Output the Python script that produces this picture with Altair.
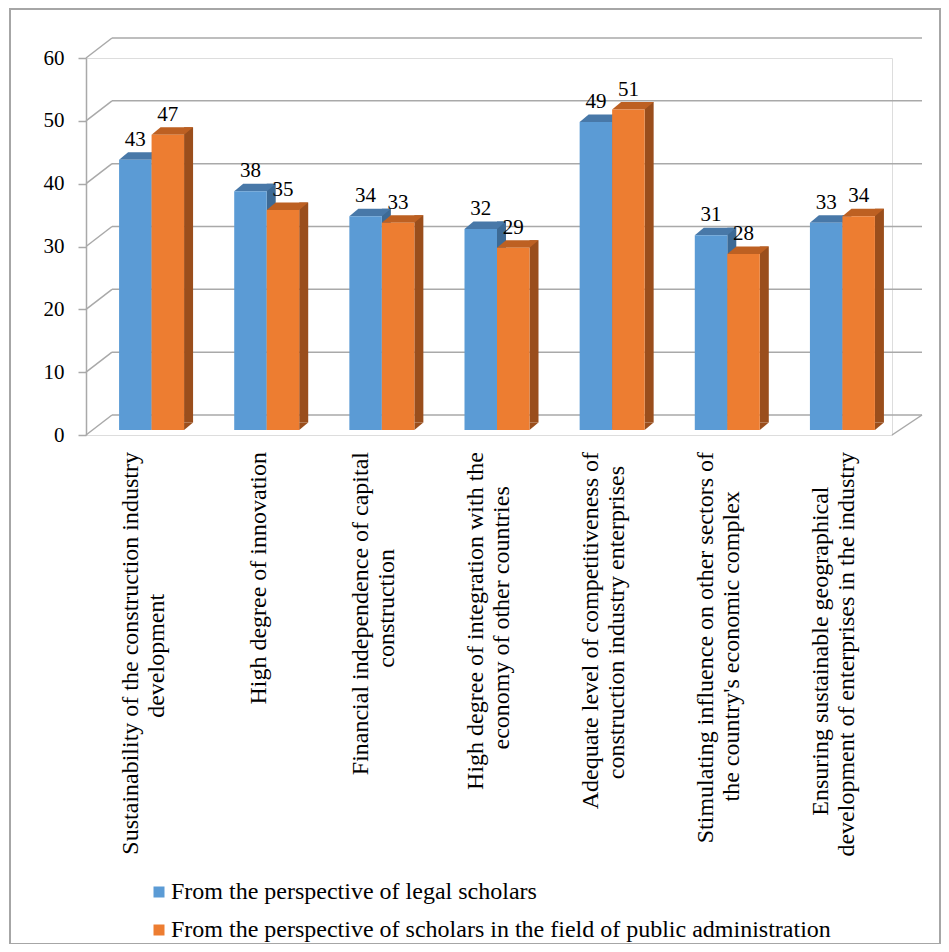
import altair as alt
import pandas as pd

# ---------------- data ----------------
label_line1 = [
    "Sustainability of the construction industry",
    "High degree of innovation",
    "Financial independence of capital",
    "High degree of integration with the",
    "Adequate level of competitiveness of",
    "Stimulating influence on other sectors of",
    "Ensuring sustainable geographical",
]
label_line2 = [
    "development",
    "",
    "construction",
    "economy of other countries",
    "construction industry enterprises",
    "the country's economic complex",
    "development of enterprises in the industry",
]
series = [
    "From the perspective of legal scholars",
    "From the perspective of scholars in the field of public administration",
]
legal_scholars = [43, 38, 34, 32, 49, 31, 33]
admin_scholars = [47, 35, 33, 29, 51, 28, 34]
y_ticks = [0, 10, 20, 30, 40, 50, 60]

front_colors = ["#5b9bd5", "#ed7d31"]
top_colors = ["#4878a8", "#bd6022"]
side_colors = ["#3d6a95", "#9a4e1c"]

FONT = "'Liberation Serif', 'Times New Roman', serif"
GRID = "#a9a9a9"

cats = [(a + " " + b).strip() for a, b in zip(label_line1, label_line2)]

rows = []
for c, v1, v2 in zip(cats, legal_scholars, admin_scholars):
    rows.append({"cat": c, "series": series[0], "value": v1, "zero": 0})
    rows.append({"cat": c, "series": series[1], "value": v2, "zero": 0})
bars_df = pd.DataFrame(rows)

lab_rows = []
for c, a, b in zip(cats, label_line1, label_line2):
    lines = [a] + ([b] if b else [])
    longest = max(len(t) for t in lines)
    slots = ["M"] if len(lines) == 1 else ["L", "R"]
    li = max(range(len(lines)), key=lambda i: len(lines[i]))
    for i, t in enumerate(lines):
        lab_rows.append({"cat": c, "text": t, "slot": slots[i],
                         "is_longest": i == li, "longest_len": longest})
labels_df = pd.DataFrame(lab_rows)

grid_df = pd.DataFrame({"v": y_ticks})
floor_df = pd.DataFrame({"v": [0]})
frame_df = pd.DataFrame({"a": [0]})

# ---------------- geometry (layout) ----------------
W, H = 806, 377
DEPTH_X, DEPTH_Y = 26, -20       # back wall offset
BAR_SHIFT, BAR_LIFT = 8, -5      # bars sit a little inside the box
DX, DY = 9, -7.5                 # 3-D depth of each bar
HALF = 16.25                     # half of a bar's width
LINE_GAP = 13                    # half distance between two label lines

Y = alt.Scale(domain=[0, 60], nice=False, zero=True)
X = alt.Scale(domain=cats, paddingInner=0.4355, paddingOuter=0.4355 / 2)

x_enc = alt.X("cat:N", sort=cats, scale=X, axis=None)

frame = alt.Chart(frame_df).mark_rect(
    fillOpacity=0, stroke="#a6a6a6", strokeWidth=2
).encode(x=alt.value(-76), x2=alt.value(854), y=alt.value(-49), y2=alt.value(886))

back_grid = alt.Chart(grid_df).mark_rule(
    color=GRID, strokeWidth=1.5, yOffset=DEPTH_Y
).encode(
    y=alt.Y("v:Q", scale=Y, axis=None),
    x=alt.value(DEPTH_X), x2=alt.value(W + 30),
)

left_wall = alt.Chart(grid_df).mark_rule(
    color=GRID, strokeWidth=1.5, y2Offset=DEPTH_Y
).encode(
    x=alt.value(0), x2=alt.value(DEPTH_X),
    y=alt.Y("v:Q", scale=Y, axis=alt.Axis(
        values=y_ticks, grid=False, title=None, domainColor=GRID, domainWidth=1.5,
        tickColor=GRID, tickWidth=1.5, tickSize=8, labelPadding=14,
        labelFont=FONT, labelFontSize=21, labelColor="#000000")),
    y2="v:Q",
)

floor_right = alt.Chart(floor_df).mark_rule(
    color=GRID, strokeWidth=1.5, y2Offset=DEPTH_Y
).encode(
    x=alt.value(W), x2=alt.value(W + 30),
    y=alt.Y("v:Q", scale=Y, axis=None), y2="v:Q",
)

x_axis = alt.Chart(floor_df).mark_rule(opacity=0).encode(
    x=alt.X("cat:N", sort=cats, scale=X, axis=alt.Axis(
        labels=False, title=None, tickBand="extent", tickSize=7, tickColor=GRID,
        tickWidth=1.5, domainColor=GRID, domainWidth=1.5, grid=False)),
)


def series_layers(j):
    s = series[j]
    off = BAR_SHIFT + (j - 0.5) * 2 * HALF
    base = alt.Chart(bars_df).transform_filter(alt.datum.series == s)
    side = base.mark_bar(
        width=DX, xOffset=off + HALF + DX / 2, color=side_colors[j],
        yOffset=BAR_LIFT + DY, y2Offset=BAR_LIFT + DY,
    ).encode(x=x_enc, y=alt.Y("value:Q", scale=Y, axis=None, stack=None), y2="zero:Q")
    bottom = base.mark_point(
        shape=f"M{HALF},0 L{HALF + DX},{DY} L{HALF},{DY} Z", size=4, filled=True,
        opacity=1, strokeWidth=0, color=side_colors[j], xOffset=off, yOffset=BAR_LIFT,
    ).encode(x=x_enc, y=alt.Y("zero:Q", scale=Y, axis=None))
    top = base.mark_point(
        shape=f"M{-HALF},0 L{HALF},0 L{HALF + DX},{DY} L{-HALF + DX},{DY} Z", size=4,
        filled=True, opacity=1, strokeWidth=0, color=top_colors[j],
        xOffset=off, yOffset=BAR_LIFT,
    ).encode(x=x_enc, y=alt.Y("value:Q", scale=Y, axis=None))
    front = base.mark_bar(
        width=2 * HALF, xOffset=off, yOffset=BAR_LIFT, y2Offset=BAR_LIFT,
    ).encode(
        x=x_enc,
        y=alt.Y("value:Q", scale=Y, axis=None, stack=None), y2="zero:Q",
        color=alt.Color("series:N", scale=alt.Scale(domain=series, range=front_colors),
                        legend=alt.Legend(
                            orient="none", legendX=61, legendY=822, title=None,
                            symbolType="square", symbolSize=121, symbolStrokeWidth=0,
                            symbolOpacity=1, labelFont=FONT, labelFontSize=24,
                            labelColor="#000000", rowPadding=14, labelLimit=0,
                            labelOffset=0, direction="vertical")),
    )
    label = base.mark_text(
        font=FONT, fontSize=21, color="#000000", baseline="alphabetic",
        xOffset=off, yOffset=BAR_LIFT, dy=-14,
    ).encode(x=x_enc, y=alt.Y("value:Q", scale=Y, axis=None), text="value:Q")
    return side, bottom, top, front, label


b_side, b_bottom, b_top, b_front, b_label = series_layers(0)
o_side, o_bottom, o_top, o_front, o_label = series_layers(1)

CAT_FS = 24
LABEL_TOP = 394
slot_off = {"L": -LINE_GAP, "M": 0, "R": LINE_GAP}


def cat_layers(slot):
    base = alt.Chart(labels_df).transform_filter(alt.datum.slot == slot)
    longest = base.transform_filter("datum.is_longest").mark_text(
        font=FONT, fontSize=CAT_FS, color="#000000", angle=270, align="right",
        baseline="middle", xOffset=slot_off[slot],
    ).encode(x=x_enc, y=alt.value(LABEL_TOP), text="text:N")
    other = base.transform_filter("!datum.is_longest").transform_calculate(
        ly=f"{LABEL_TOP} + datum.longest_len * {0.395 * CAT_FS} / 2"
    ).mark_text(
        font=FONT, fontSize=CAT_FS, color="#000000", angle=270, align="center",
        baseline="middle", xOffset=slot_off[slot],
    ).encode(x=x_enc, y=alt.Y("ly:Q", scale=None, axis=None), text="text:N")
    return longest, other


cat_l = cat_layers("L")
cat_m = cat_layers("M")
cat_r = cat_layers("R")

chart = alt.layer(
    frame, back_grid, left_wall, floor_right, x_axis,
    b_side, o_side, b_bottom, o_bottom, b_top, o_top, b_front, o_front,
    b_label, o_label, *cat_l, *cat_m, *cat_r,
).resolve_scale(
    y="independent"
).properties(
    width=W, height=H,
    padding={"left": 78, "top": 50, "right": 49, "bottom": 509},
    autosize=alt.AutoSizeParams(type="none"),
).configure_view(stroke=None).configure(background="white")

chart.save("out.html", embed_options={"renderer": "svg", "actions": False})
